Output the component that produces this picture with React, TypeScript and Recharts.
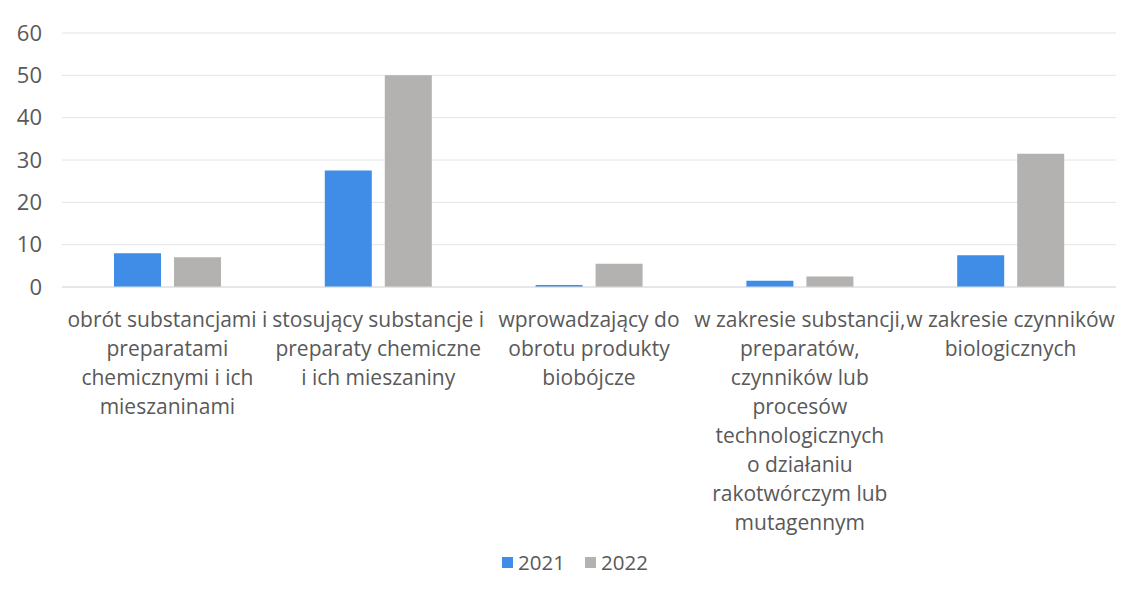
import React from "react";
import { BarChart, Bar, XAxis, YAxis, CartesianGrid, Legend } from "recharts";

const categories = [
  "obrót substancjami i preparatami chemicznymi i ich mieszaninami",
  "stosujący substancje i preparaty chemiczne i ich mieszaniny",
  "wprowadzający do obrotu produkty biobójcze",
  "w zakresie substancji, preparatów, czynników lub procesów technologicznych o działaniu rakotwórczym lub mutagennym",
  "w zakresie czynników biologicznych",
];
const categoryLines = [
  ["obrót substancjami i", "preparatami", "chemicznymi i ich", "mieszaninami"],
  ["stosujący substancje i", "preparaty chemiczne", "i ich mieszaniny"],
  ["wprowadzający do", "obrotu produkty", "biobójcze"],
  ["w zakresie substancji,", "preparatów,", "czynników lub", "procesów", "technologicznych", "o działaniu", "rakotwórczym lub", "mutagennym"],
  ["w zakresie czynników", "biologicznych"],
];
const values2021 = [8, 27.5, 0.5, 1.5, 7.5];
const values2022 = [7, 50, 5.5, 2.5, 31.5];
const yTicks = [0, 10, 20, 30, 40, 50, 60];

const data = categories.map((c, i) => ({
  name: c,
  idx: i,
  y2021: values2021[i],
  y2022: values2022[i],
}));

const FONT = "'Open Sans', Lato, sans-serif";
const TEXT = "#595959";

const CatTick = (props: any) => {
  const { x, y, index } = props;
  const lines = categoryLines[index] || [];
  return (
    <g>
      {lines.map((l, i) => (
        <text
          key={i}
          x={x}
          y={y + 32 + i * 29}
          textAnchor="middle"
          fill={TEXT}
          fontSize={21}
          fontFamily={FONT}
        >
          {l}
        </text>
      ))}
    </g>
  );
};

const LegendContent = () => (
  <div
    style={{
      display: "flex",
      justifyContent: "center",
      alignItems: "center",
      height: 40,
      fontFamily: FONT,
      fontSize: 20.5,
      color: TEXT,
      paddingLeft: 34,
    }}
  >
    <span style={{ display: "inline-block", width: 11, height: 11, background: "#3f8de6", marginRight: 5 }} />
    <span style={{ marginRight: 20 }}>2021</span>
    <span style={{ display: "inline-block", width: 11, height: 11, background: "#b4b1b1", marginRight: 5 }} />
    <span>2022</span>
  </div>
);

export default function App() {
  return (
    <div style={{ position: "absolute", left: 0, top: 0, background: "#fff" }}>
      <BarChart
        width={1125}
        height={594}
        data={data}
        margin={{ top: 33, right: 9, left: 0, bottom: 12 }}
        barCategoryGap="24.6%"
        barGap={13}
      >
        <CartesianGrid vertical={false} stroke="#e4e4e4" />
        <XAxis
          dataKey="name"
          height={255}
          interval={0}
          tick={<CatTick />}
          tickLine={false}
          axisLine={{ stroke: "#dcdcdc" }}
        />
        <YAxis
          width={62}
          domain={[0, 60]}
          ticks={yTicks}
          axisLine={false}
          tickLine={false}
          tick={{ fill: TEXT, fontSize: 22, fontFamily: FONT }}
          tickMargin={14}
        />
        <Legend verticalAlign="bottom" height={40} content={<LegendContent />} />
        <Bar dataKey="y2021" name="2021" fill="#3f8de6" barSize={47} isAnimationActive={false} />
        <Bar dataKey="y2022" name="2022" fill="#b4b1b1" barSize={47} isAnimationActive={false} />
      </BarChart>
    </div>
  );
}
